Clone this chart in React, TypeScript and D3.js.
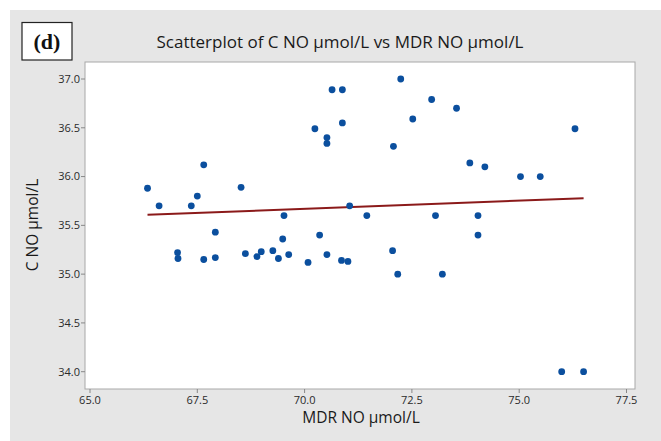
import React from 'react';
import * as d3 from 'd3';

// MDR NO (x) and C NO (y)
const mdrNo = [
  66.34, 66.61, 67.36, 67.5, 67.65, 67.04, 67.05, 67.65, 67.92, 67.92,
  68.52, 68.62, 68.89, 68.99, 69.26, 69.39, 69.49, 69.52, 69.63, 70.08,
  70.24, 70.35, 70.52, 70.52, 70.52, 70.64, 70.88, 70.88, 70.86, 71.01,
  71.05, 71.45, 72.24, 72.96, 72.52, 73.54, 72.07, 76.3, 73.85, 74.2,
  75.03, 75.49, 73.05, 74.04, 74.04, 72.05, 72.17, 73.21, 75.99, 76.5,
];
const cNo = [
  35.88, 35.7, 35.7, 35.8, 36.12, 35.22, 35.16, 35.15, 35.43, 35.17,
  35.89, 35.21, 35.18, 35.23, 35.24, 35.16, 35.36, 35.6, 35.2, 35.12,
  36.49, 35.4, 36.4, 36.34, 35.2, 36.89, 36.89, 36.55, 35.14, 35.13,
  35.7, 35.6, 37.0, 36.79, 36.59, 36.7, 36.31, 36.49, 36.14, 36.1,
  36.0, 36.0, 35.6, 35.6, 35.4, 35.24, 35.0, 35.0, 34.0, 34.0,
];
const xTicks = [65, 67.5, 70, 72.5, 75, 77.5];
const yTicks = [34, 34.5, 35, 35.5, 36, 36.5, 37];

const W = 661;
const H = 441;
const frame = { left: 85, top: 62, right: 635, bottom: 389 };
const sans = "'Open Sans', 'Noto Sans', sans-serif";

export default function App() {
  const x = d3.scaleLinear().domain([65, 77.5]).range([90, 626.5]);
  const y = d3.scaleLinear().domain([34, 37]).range([371.7, 79]);

  const points = mdrNo.map((v, i) => ({ x: v, y: cNo[i] }));

  // least squares fit
  const mx = d3.mean(mdrNo) as number;
  const my = d3.mean(cNo) as number;
  const sxy = d3.sum(points, (p) => (p.x - mx) * (p.y - my));
  const sxx = d3.sum(points, (p) => (p.x - mx) ** 2);
  const slope = sxy / sxx;
  const icept = my - slope * mx;
  const [x0, x1] = d3.extent(mdrNo) as [number, number];
  const fit = d3.line<number>()
    .x((d) => x(d))
    .y((d) => y(icept + slope * d))([x0, x1]);

  return (
    <svg width={W} height={H} style={{ position: 'absolute', left: 0, top: 0 }}>
      <rect x={0} y={0} width={W} height={H} fill="#fff" />
      <rect x={10} y={10} width={W - 10} height={H - 10} fill="#e6e6e6" />
      <rect x={frame.left} y={frame.top} width={frame.right - frame.left}
        height={frame.bottom - frame.top} fill="#fff" stroke="#a8a8a8" strokeWidth={1} />

      <rect x={22} y={22.5} width={50} height={37.5} fill="#fff" stroke="#222" strokeWidth={1.2} />
      <text x={47} y={49} textAnchor="middle" fontFamily="'Liberation Serif', serif"
        fontWeight="bold" fontSize={22} fill="#111">(d)</text>

      <text x={340} y={48} textAnchor="middle" fontFamily={sans} fontSize={17} fill="#1a1a1a">
        Scatterplot of C NO µmol/L vs MDR NO µmol/L
      </text>

      {yTicks.map((t) => (
        <g key={t}>
          <line x1={frame.left - 4} x2={frame.left} y1={y(t)} y2={y(t)} stroke="#888" />
          <text x={frame.left - 5} y={y(t)} dy="0.35em" textAnchor="end"
            fontFamily={sans} fontSize={11} fill="#2a2a2a">{t.toFixed(1)}</text>
        </g>
      ))}
      {xTicks.map((t) => (
        <g key={t}>
          <line x1={x(t)} x2={x(t)} y1={frame.bottom} y2={frame.bottom + 4} stroke="#888" />
          <text x={x(t)} y={frame.bottom + 15} textAnchor="middle"
            fontFamily={sans} fontSize={11} fill="#2a2a2a">{t.toFixed(1)}</text>
        </g>
      ))}

      <text x={361} y={423} textAnchor="middle" fontFamily={sans} fontSize={15.5} fill="#1a1a1a">
        MDR NO µmol/L
      </text>
      <text transform={`translate(38, 225) rotate(-90)`} textAnchor="middle"
        fontFamily={sans} fontSize={15.5} fill="#1a1a1a">C NO µmol/L</text>

      <path d={fit ?? ''} fill="none" stroke="#8b1a1a" strokeWidth={2} />

      {points.map((p, i) => (
        <circle key={i} cx={x(p.x)} cy={y(p.y)} r={3.4} fill="#0b4f9e" />
      ))}
    </svg>
  );
}
